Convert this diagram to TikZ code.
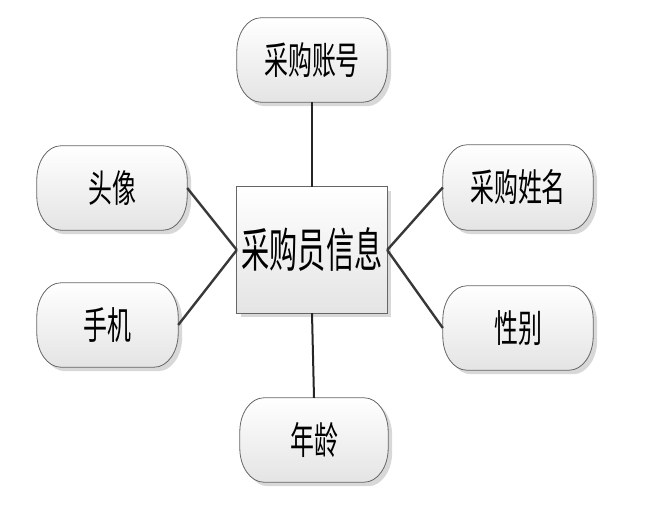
\documentclass[tikz,border=0pt]{standalone}
\usepackage{fontspec}
\newfontfamily\cjk{Noto Sans CJK SC}
\usetikzlibrary{backgrounds}
\definecolor{edgec}{HTML}{383838}
\definecolor{framec}{HTML}{666666}
\definecolor{shadec}{HTML}{D8D8D8}
\definecolor{botc}{HTML}{E4E4E4}
\tikzset{
  attr/.style={inner sep=0pt, minimum width=150pt, minimum height=84pt,
    font=\cjk\fontsize{38}{40}\selectfont},
  entity/.style={inner sep=0pt, minimum width=150pt, minimum height=126pt,
    font=\cjk\fontsize{47}{50}\selectfont},
  link/.style={draw=edgec, line width=2.4pt},
  vlink/.style={draw=black!85, line width=2pt},
  frameline/.style={draw=framec, line width=0.8pt, top color=white, bottom color=botc},
  shadowfill/.style={fill=shadec},
}
\newcommand\ovpath[4]{%
  \path[#4] ([xshift=24pt+#2,yshift=#3]#1.north west)
    -- ([xshift=-24pt+#2,yshift=#3]#1.north east)
    arc[start angle=90,end angle=0,x radius=24pt,y radius=34pt]
    -- ([xshift=#2,yshift=34pt+#3]#1.south east)
    arc[start angle=0,end angle=-90,x radius=24pt,y radius=34pt]
    -- ([xshift=24pt+#2,yshift=#3]#1.south west)
    arc[start angle=270,end angle=180,x radius=24pt,y radius=34pt]
    -- ([xshift=#2,yshift=-34pt+#3]#1.north west)
    arc[start angle=180,end angle=90,x radius=24pt,y radius=34pt]
    -- cycle;}
\newcommand\ovframe[1]{%
  \ovpath{#1}{4pt}{-4pt}{shadowfill}%
  \ovpath{#1}{0pt}{0pt}{frameline}}
\begin{document}
\begin{tikzpicture}[x=1pt,y=1pt]
  \useasboundingbox (0,0) rectangle (648,514);
  \node[entity] (c) at (312,264) {\scalebox{0.6}[1]{采购员信息}};
  \node[attr] (zh) at (312,454) {\scalebox{0.63}[1]{采购账号}};
  \node[attr] (tx) at (112,326) {\scalebox{0.63}[1]{头像}};
  \node[attr, minimum width=141pt] (sj) at (107.5,189) {\scalebox{0.63}[1]{手机}};
  \node[attr, minimum height=85pt] (xm) at (518,326.5) {\scalebox{0.63}[1]{采购姓名}};
  \node[attr] (xb) at (518,186) {\scalebox{0.63}[1]{性别}};
  \node[attr, minimum width=148pt] (nl) at (314,74) {\scalebox{0.63}[1]{年龄}};
  \begin{pgfonlayer}{background}
    \fill[shadowfill] ([xshift=4pt,yshift=-4pt]c.south west) rectangle ([xshift=4pt,yshift=-4pt]c.north east);
    \path[draw=framec, line width=0.9pt, top color=white, bottom color=botc] (c.south west) rectangle (c.north east);
    \ovframe{zh}
    \ovframe{tx}
    \ovframe{sj}
    \ovframe{xm}
    \ovframe{xb}
    \ovframe{nl}
  \end{pgfonlayer}
  \draw[vlink] (zh.south) -- (c.north);
  \draw[vlink] (c.south) -- (nl.north);
  \draw[link] (tx.east) -- (c.west);
  \draw[link] (sj.east) -- (c.west);
  \draw[link] (xm.west) -- (c.east);
  \draw[link] (xb.west) -- (c.east);
\end{tikzpicture}
\end{document}
